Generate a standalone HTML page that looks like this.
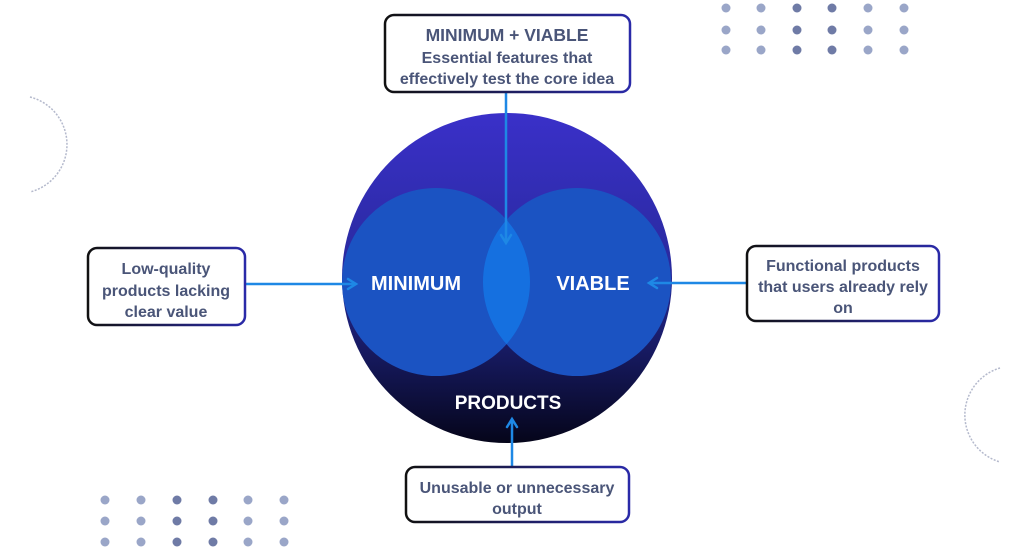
<!DOCTYPE html>
<html><head><meta charset="utf-8"><style>
html,body{margin:0;padding:0;background:#fff;}
svg{display:block;}
text{font-family:"Liberation Sans",sans-serif;font-weight:bold;}
</style></head><body>
<svg width="1024" height="551" viewBox="0 0 1024 551" xmlns="http://www.w3.org/2000/svg">
<defs>
<linearGradient id="outer" x1="0" y1="0" x2="0" y2="1">
<stop offset="0" stop-color="#3a30c9"/>
<stop offset="0.45" stop-color="#2a2aa0"/>
<stop offset="0.75" stop-color="#15185a"/>
<stop offset="1" stop-color="#05051a"/>
</linearGradient>
<linearGradient id="bord" x1="0" y1="0" x2="1" y2="0">
<stop offset="0" stop-color="#111"/>
<stop offset="1" stop-color="#2a2aa8"/>
</linearGradient>
<clipPath id="cl"><circle cx="436" cy="282" r="94"/></clipPath>
</defs>
<path d="M30,97 A49,49 0 0 1 30,192" fill="none" stroke="#b4b9cc" stroke-width="1.5" stroke-dasharray="2,1.5"/>
<path d="M1000,368 A49,49 0 0 0 1000,462" fill="none" stroke="#b4b9cc" stroke-width="1.5" stroke-dasharray="2,1.5"/>
<g>
<g fill="#9aa6c8"><circle cx="726" cy="8" r="4.5"/><circle cx="761" cy="8" r="4.5"/><circle cx="868" cy="8" r="4.5"/><circle cx="904" cy="8" r="4.5"/>
<circle cx="726" cy="30" r="4.5"/><circle cx="761" cy="30" r="4.5"/><circle cx="868" cy="30" r="4.5"/><circle cx="904" cy="30" r="4.5"/>
<circle cx="726" cy="50" r="4.5"/><circle cx="761" cy="50" r="4.5"/><circle cx="868" cy="50" r="4.5"/><circle cx="904" cy="50" r="4.5"/></g>
<g fill="#6f7ba6"><circle cx="797" cy="8" r="4.5"/><circle cx="832" cy="8" r="4.5"/><circle cx="797" cy="30" r="4.5"/><circle cx="832" cy="30" r="4.5"/><circle cx="797" cy="50" r="4.5"/><circle cx="832" cy="50" r="4.5"/></g>
<g fill="#9aa6c8"><circle cx="105" cy="500" r="4.5"/><circle cx="141" cy="500" r="4.5"/><circle cx="248" cy="500" r="4.5"/><circle cx="284" cy="500" r="4.5"/>
<circle cx="105" cy="521" r="4.5"/><circle cx="141" cy="521" r="4.5"/><circle cx="248" cy="521" r="4.5"/><circle cx="284" cy="521" r="4.5"/>
<circle cx="105" cy="542" r="4.5"/><circle cx="141" cy="542" r="4.5"/><circle cx="248" cy="542" r="4.5"/><circle cx="284" cy="542" r="4.5"/></g>
<g fill="#6f7ba6"><circle cx="177" cy="500" r="4.5"/><circle cx="213" cy="500" r="4.5"/><circle cx="177" cy="521" r="4.5"/><circle cx="213" cy="521" r="4.5"/><circle cx="177" cy="542" r="4.5"/><circle cx="213" cy="542" r="4.5"/></g>
</g>
<circle cx="507" cy="278" r="165" fill="url(#outer)"/>
<circle cx="436" cy="282" r="94" fill="#1b53c2"/>
<circle cx="577" cy="282" r="94" fill="#1b53c2"/>
<circle cx="577" cy="282" r="94" fill="#1570e0" clip-path="url(#cl)"/>
<text x="416" y="290" fill="#fff" font-size="20" text-anchor="middle">MINIMUM</text>
<text x="593" y="290" fill="#fff" font-size="20" text-anchor="middle">VIABLE</text>
<text x="508" y="409" fill="#fff" font-size="19" text-anchor="middle">PRODUCTS</text>
<g stroke="#1e88e5" stroke-width="2.5" fill="none" stroke-linecap="round">
<line x1="506" y1="92" x2="506" y2="242"/><path d="M501,235 L506,243 L511,235"/>
<line x1="245" y1="284" x2="355" y2="284"/><path d="M348,279 L356,284 L348,289"/>
<line x1="747" y1="283" x2="650" y2="283"/><path d="M657,278 L649,283 L657,288"/>
<line x1="512" y1="467" x2="512" y2="420"/><path d="M507,427 L512,419 L517,427"/>
</g>
<g fill="#fff" stroke="url(#bord)" stroke-width="2.5">
<rect x="385" y="15" width="245" height="77" rx="9"/>
<rect x="88" y="248" width="157" height="77" rx="9"/>
<rect x="747" y="246" width="192" height="75" rx="9"/>
<rect x="406" y="467" width="223" height="55" rx="9"/>
</g>
<g fill="#4a5578" font-size="16" text-anchor="middle">
<text x="507" y="41" font-size="17.5">MINIMUM + VIABLE</text>
<text x="507" y="63">Essential features that</text>
<text x="507" y="84">effectively test the core idea</text>
<text x="166" y="274">Low-quality</text>
<text x="166" y="296">products lacking</text>
<text x="166" y="317">clear value</text>
<text x="843" y="271">Functional products</text>
<text x="843" y="292">that users already rely</text>
<text x="843" y="313">on</text>
<text x="517" y="493">Unusable or unnecessary</text>
<text x="517" y="514">output</text>
</g>
</svg>
</body></html>
